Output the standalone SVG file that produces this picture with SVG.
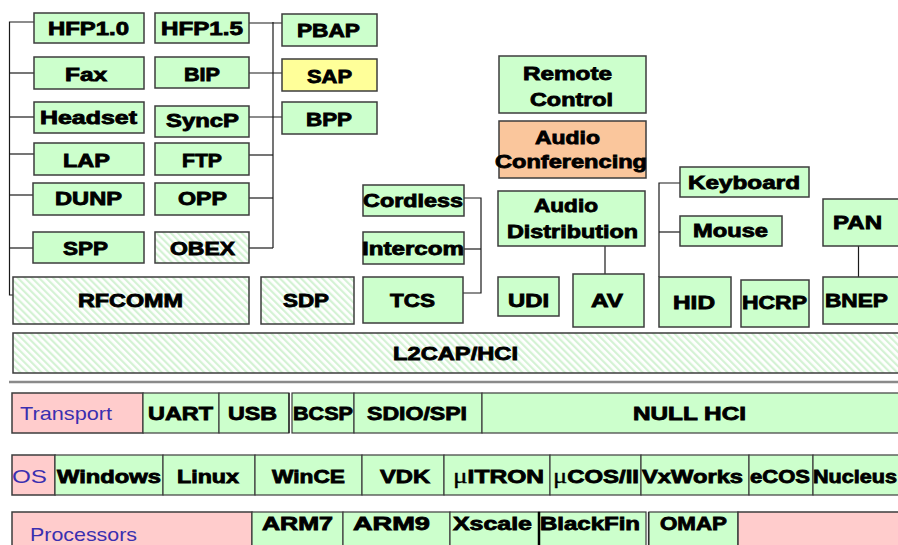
<svg xmlns="http://www.w3.org/2000/svg" width="898" height="545" viewBox="0 0 898 545">
  <defs>
    <pattern id="hatch" patternUnits="userSpaceOnUse" width="5" height="5" patternTransform="rotate(-45)">
      <rect width="5" height="5" fill="#ffffff"/>
      <rect width="2.2" height="5" fill="#d4f2d4"/>
    </pattern>
    <style>
      .g { fill: #ccffcc; stroke: #3c3c3c; stroke-width: 1.5; }
      .h { fill: url(#hatch); stroke: #3c3c3c; stroke-width: 1.5; }
      .p { fill: #ffcccc; stroke: #3c3c3c; stroke-width: 1.5; }
      .o { fill: #fac69c; stroke: #3c3c3c; stroke-width: 1.5; }
      .y { fill: #ffff99; stroke: #3c3c3c; stroke-width: 1.5; }
      .c { fill: #ccffcc; stroke: #3c3c3c; stroke-width: 1.2; }
      .t { font-family: "Liberation Sans", Arial, sans-serif; font-weight: bold; font-size: 18px; fill: #000; stroke: #000; stroke-width: 0.8; }
      .n { font-family: "Liberation Sans", Arial, sans-serif; font-size: 19px; fill: #3a2fb0; }
      .mu { font-family: "Liberation Serif", serif; font-weight: normal; stroke-width: 0.3; }
      .w { fill: none; stroke: #1a1a1a; stroke-width: 1.2; }
    </style>
  </defs>
  <rect width="898" height="545" fill="#ffffff"/>

  <!-- connectors -->
  <g id="connectors" class="w">
    <!-- left RFCOMM profile bus -->
    <polyline points="34,22 9.5,22 9.5,295 13,295"/>
    <line x1="9.5" y1="73" x2="34" y2="73"/>
    <line x1="9.5" y1="117" x2="34" y2="117"/>
    <line x1="9.5" y1="154" x2="34" y2="154"/>
    <line x1="9.5" y1="195" x2="33" y2="195"/>
    <line x1="9.5" y1="248" x2="33" y2="248"/>
    <!-- OBEX profile bus -->
    <line x1="273" y1="22" x2="273" y2="248"/>
    <line x1="249" y1="23" x2="282" y2="23"/>
    <line x1="249" y1="73" x2="282" y2="73"/>
    <line x1="249" y1="117" x2="282" y2="117"/>
    <line x1="249" y1="155" x2="273" y2="155"/>
    <line x1="249" y1="198" x2="273" y2="198"/>
    <line x1="249" y1="248" x2="273" y2="248"/>
    <!-- TCS bus -->
    <polyline points="464,198 481,198 481,293 463,293"/>
    <line x1="464" y1="249" x2="481" y2="249"/>
    <!-- AV -->
    <line x1="605" y1="246" x2="605" y2="274"/>
    <!-- HID bus -->
    <polyline points="680,183 659,183 659,277"/>
    <line x1="659" y1="232" x2="680" y2="232"/>
    <!-- PAN / BNEP -->
    <line x1="858.5" y1="246" x2="858.5" y2="277"/>
  </g>

  <!-- profiles column 1 -->
  <g id="hfp10"><rect class="g" x="34" y="13" width="110" height="30"/><text class="t" x="48" y="35" textLength="81" lengthAdjust="spacingAndGlyphs">HFP1.0</text></g>
  <g id="fax"><rect class="g" x="34" y="57" width="110" height="32"/><text class="t" x="65" y="81" textLength="42" lengthAdjust="spacingAndGlyphs">Fax</text></g>
  <g id="headset"><rect class="g" x="34" y="102" width="110" height="31"/><text class="t" x="40" y="124" textLength="97" lengthAdjust="spacingAndGlyphs">Headset</text></g>
  <g id="lap"><rect class="g" x="34" y="143" width="110" height="32"/><text class="t" x="63" y="167" textLength="47" lengthAdjust="spacingAndGlyphs">LAP</text></g>
  <g id="dunp"><rect class="g" x="33" y="183" width="111" height="32"/><text class="t" x="55" y="205" textLength="67" lengthAdjust="spacingAndGlyphs">DUNP</text></g>
  <g id="spp"><rect class="g" x="33" y="232" width="111" height="31"/><text class="t" x="63" y="255" textLength="45" lengthAdjust="spacingAndGlyphs">SPP</text></g>

  <!-- profiles column 2 -->
  <g id="hfp15"><rect class="g" x="155" y="13" width="94" height="30"/><text class="t" x="161" y="35" textLength="82" lengthAdjust="spacingAndGlyphs">HFP1.5</text></g>
  <g id="bip"><rect class="g" x="155" y="57" width="94" height="31"/><text class="t" x="184" y="81" textLength="36" lengthAdjust="spacingAndGlyphs">BIP</text></g>
  <g id="syncp"><rect class="g" x="155" y="106" width="94" height="31"/><text class="t" x="166" y="127" textLength="73" lengthAdjust="spacingAndGlyphs">SyncP</text></g>
  <g id="ftp"><rect class="g" x="155" y="143" width="94" height="32"/><text class="t" x="182" y="167" textLength="40" lengthAdjust="spacingAndGlyphs">FTP</text></g>
  <g id="opp"><rect class="g" x="155" y="183" width="94" height="32"/><text class="t" x="178" y="205" textLength="49" lengthAdjust="spacingAndGlyphs">OPP</text></g>
  <g id="obex"><rect class="h" x="155" y="232" width="94" height="31"/><text class="t" x="170" y="255" textLength="65" lengthAdjust="spacingAndGlyphs">OBEX</text></g>

  <!-- profiles column 3 -->
  <g id="pbap"><rect class="g" x="282" y="14" width="95" height="32"/><text class="t" x="297" y="37" textLength="63" lengthAdjust="spacingAndGlyphs">PBAP</text></g>
  <g id="sap"><rect class="y" x="282" y="59" width="95" height="32"/><text class="t" x="307" y="83" textLength="45" lengthAdjust="spacingAndGlyphs">SAP</text></g>
  <g id="bpp"><rect class="g" x="282" y="102" width="95" height="32"/><text class="t" x="306" y="126" textLength="46" lengthAdjust="spacingAndGlyphs">BPP</text></g>

  <!-- telephony -->
  <g id="cordless"><rect class="g" x="363" y="185" width="101" height="31"/><text class="t" x="363" y="207" textLength="100" lengthAdjust="spacingAndGlyphs">Cordless</text></g>
  <g id="intercom"><rect class="g" x="363" y="232" width="101" height="32"/><text class="t" x="362" y="255" textLength="102" lengthAdjust="spacingAndGlyphs">Intercom</text></g>

  <!-- audio / video -->
  <g id="remote-control"><rect class="g" x="499" y="56" width="147" height="57"/><text class="t" x="523" y="80" textLength="89" lengthAdjust="spacingAndGlyphs">Remote</text><text class="t" x="530" y="106" textLength="83" lengthAdjust="spacingAndGlyphs">Control</text></g>
  <g id="audio-conferencing"><rect class="o" x="499" y="121" width="147" height="57"/><text class="t" x="535" y="144" textLength="65" lengthAdjust="spacingAndGlyphs">Audio</text><text class="t" x="495" y="168" textLength="152" lengthAdjust="spacingAndGlyphs">Conferencing</text></g>
  <g id="audio-distribution"><rect class="g" x="498" y="191" width="147" height="55"/><text class="t" x="534" y="212" textLength="64" lengthAdjust="spacingAndGlyphs">Audio</text><text class="t" x="507" y="238" textLength="131" lengthAdjust="spacingAndGlyphs">Distribution</text></g>

  <!-- HID -->
  <g id="keyboard"><rect class="g" x="680" y="167" width="129" height="30"/><text class="t" x="688" y="189" textLength="112" lengthAdjust="spacingAndGlyphs">Keyboard</text></g>
  <g id="mouse"><rect class="g" x="680" y="216" width="102" height="30"/><text class="t" x="693" y="237" textLength="75" lengthAdjust="spacingAndGlyphs">Mouse</text></g>
  <g id="pan"><rect class="g" x="823" y="199" width="80" height="47"/><text class="t" x="833" y="229" textLength="49" lengthAdjust="spacingAndGlyphs">PAN</text></g>

  <!-- protocol layer -->
  <g id="rfcomm"><rect class="h" x="13" y="277" width="236" height="47"/><text class="t" x="78" y="307" textLength="105" lengthAdjust="spacingAndGlyphs">RFCOMM</text></g>
  <g id="sdp"><rect class="h" x="261" y="277" width="93" height="47"/><text class="t" x="283" y="307" textLength="46" lengthAdjust="spacingAndGlyphs">SDP</text></g>
  <g id="tcs"><rect class="g" x="363" y="277" width="100" height="46"/><text class="t" x="390" y="307" textLength="45" lengthAdjust="spacingAndGlyphs">TCS</text></g>
  <g id="udi"><rect class="g" x="498" y="277" width="61" height="39"/><text class="t" x="508" y="307" textLength="41" lengthAdjust="spacingAndGlyphs">UDI</text></g>
  <g id="av"><rect class="g" x="573" y="274" width="71" height="53"/><text class="t" x="591" y="307" textLength="32" lengthAdjust="spacingAndGlyphs">AV</text></g>
  <g id="hid"><rect class="g" x="659" y="277" width="72" height="50"/><text class="t" x="673" y="309" textLength="42" lengthAdjust="spacingAndGlyphs">HID</text></g>
  <g id="hcrp"><rect class="g" x="741" y="280" width="68" height="47"/><text class="t" x="742" y="309" textLength="65" lengthAdjust="spacingAndGlyphs">HCRP</text></g>
  <g id="bnep"><rect class="g" x="823" y="277" width="80" height="47"/><text class="t" x="825" y="307" textLength="63" lengthAdjust="spacingAndGlyphs">BNEP</text></g>

  <g id="l2cap-hci"><rect class="h" x="13" y="333" width="890" height="40"/><text class="t" x="393" y="360" textLength="125" lengthAdjust="spacingAndGlyphs">L2CAP/HCI</text></g>

  <!-- separator -->
  <line x1="9" y1="382" x2="898" y2="382" stroke="#8a8a8a" stroke-width="2.5"/>

  <!-- transport row -->
  <g id="transport">
    <rect class="p" x="12" y="393" width="131" height="40"/><text class="n" x="20" y="420" textLength="92" lengthAdjust="spacingAndGlyphs">Transport</text>
  </g>
  <g id="uart"><rect class="c" x="143" y="393" width="76" height="40"/><text class="t" x="148" y="420" textLength="65" lengthAdjust="spacingAndGlyphs">UART</text></g>
  <g id="usb"><rect class="c" x="219" y="393" width="70" height="40"/><text class="t" x="228" y="420" textLength="49" lengthAdjust="spacingAndGlyphs">USB</text></g>
  <g id="bcsp"><rect class="c" x="292" y="393" width="62" height="40"/><line x1="289" y1="393" x2="289" y2="433" class="w"/><text class="t" x="293" y="420" textLength="60" lengthAdjust="spacingAndGlyphs">BCSP</text></g>
  <g id="sdio-spi"><rect class="c" x="354" y="393" width="128" height="40"/><text class="t" x="367" y="420" textLength="100" lengthAdjust="spacingAndGlyphs">SDIO/SPI</text></g>
  <g id="null-hci"><rect class="c" x="482" y="393" width="421" height="40"/><text class="t" x="633" y="420" textLength="113" lengthAdjust="spacingAndGlyphs">NULL HCI</text></g>

  <!-- OS row -->
  <g id="os"><rect class="p" x="12" y="455" width="43" height="40"/><text class="n" x="12" y="483" textLength="35" lengthAdjust="spacingAndGlyphs">OS</text></g>
  <g id="windows"><rect class="c" x="55" y="455" width="108" height="40"/><text class="t" x="57" y="483" textLength="104" lengthAdjust="spacingAndGlyphs">Windows</text></g>
  <g id="linux"><rect class="c" x="163" y="455" width="92" height="40"/><text class="t" x="177" y="483" textLength="62" lengthAdjust="spacingAndGlyphs">Linux</text></g>
  <g id="wince"><rect class="c" x="255" y="455" width="107" height="40"/><text class="t" x="272" y="483" textLength="73" lengthAdjust="spacingAndGlyphs">WinCE</text></g>
  <g id="vdk"><rect class="c" x="362" y="455" width="82" height="40"/><text class="t" x="380" y="483" textLength="50" lengthAdjust="spacingAndGlyphs">VDK</text></g>
  <g id="uitron"><rect class="c" x="444" y="455" width="106" height="40"/><text class="t" x="453" y="483" textLength="91" lengthAdjust="spacingAndGlyphs"><tspan class="mu" font-size="20">μ</tspan>ITRON</text></g>
  <g id="ucos"><rect class="c" x="550" y="455" width="91" height="40"/><text class="t" x="553" y="483" textLength="86" lengthAdjust="spacingAndGlyphs"><tspan class="mu" font-size="20">μ</tspan>COS/II</text></g>
  <g id="vxworks"><rect class="c" x="641" y="455" width="108" height="40"/><text class="t" x="642" y="483" textLength="101" lengthAdjust="spacingAndGlyphs">VxWorks</text></g>
  <g id="ecos"><rect class="c" x="749" y="455" width="64" height="40"/><text class="t" x="750" y="483" textLength="60" lengthAdjust="spacingAndGlyphs">eCOS</text></g>
  <g id="nucleus"><rect class="c" x="813" y="455" width="90" height="40"/><text class="t" x="813" y="483" textLength="84" lengthAdjust="spacingAndGlyphs">Nucleus</text></g>

  <!-- processor row -->
  <g id="processors"><rect class="p" x="12" y="512" width="240" height="50"/><text class="n" x="30" y="541" textLength="107" lengthAdjust="spacingAndGlyphs">Processors</text></g>
  <g id="arm7"><rect class="c" x="252" y="512" width="91" height="50"/><text class="t" x="262" y="530" textLength="71" lengthAdjust="spacingAndGlyphs">ARM7</text></g>
  <g id="arm9"><rect class="c" x="343" y="512" width="107" height="50"/><text class="t" x="353" y="530" textLength="77" lengthAdjust="spacingAndGlyphs">ARM9</text></g>
  <g id="xscale"><rect class="c" x="450" y="512" width="89" height="50"/><text class="t" x="453" y="530" textLength="79" lengthAdjust="spacingAndGlyphs">Xscale</text></g>
  <g id="blackfin"><rect class="c" x="539" y="512" width="107" height="50"/><line x1="539" y1="512" x2="539" y2="545" stroke="#000" stroke-width="2.5"/><line x1="648.5" y1="512" x2="648.5" y2="545" class="w"/><text class="t" x="540" y="530" textLength="100" lengthAdjust="spacingAndGlyphs">BlackFin</text></g>
  <g id="omap"><rect class="c" x="649" y="512" width="89" height="50"/><text class="t" x="660" y="530" textLength="67" lengthAdjust="spacingAndGlyphs">OMAP</text></g>
  <g id="processors-other"><rect class="p" x="738" y="512" width="165" height="50"/></g>
</svg>
